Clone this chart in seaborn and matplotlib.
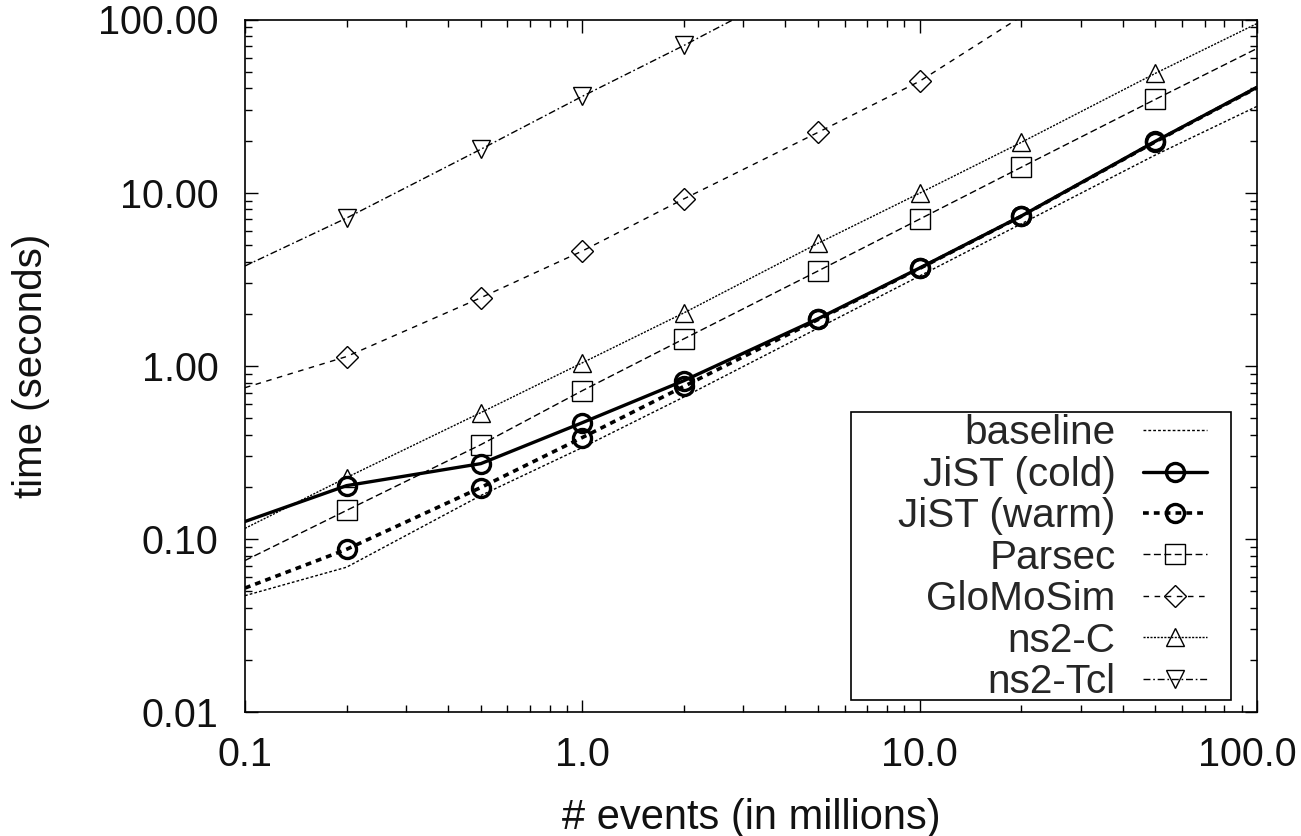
import numpy as np
import pandas as pd
import matplotlib
matplotlib.use("Agg")
import matplotlib.pyplot as plt
import seaborn as sns
from matplotlib.patches import Rectangle
from matplotlib.transforms import ScaledTranslation
from matplotlib.ticker import FixedLocator, FixedFormatter, LogLocator, NullFormatter

events = [0.1, 0.2, 0.5, 1, 2, 5, 10, 20, 50, 100]

baseline = [0.047, 0.0686, 0.178, 0.337, 0.66, 1.65, 3.3, 6.6, 16.5, 31.5]
jist_cold = [0.126, 0.203, 0.272, 0.469, 0.82, 1.87, 3.67, 7.32, 19.8, 40.6]
jist_warm = [0.052, 0.087, 0.198, 0.385, 0.76, 1.85, 3.65, 7.3, 19.7, 40.4]
parsec = [0.075, 0.146, 0.35, 0.718, 1.43, 3.53, 7.03, 14.0, 34.6, 68.0]
glomosim = [0.747, 1.13, 2.47, 4.6, 9.2, 22.3, 44.0, 104.0, 260.0, 520.0]
ns2_c = [0.115, 0.226, 0.536, 1.04, 2.02, 5.1, 9.93, 19.5, 48.9, 94.8]
ns2_tcl = [3.77, 7.13, 17.8, 36.0, 70.8, 180.0, 360.0, 720.0, 1800.0, 3600.0]

series_names = ["baseline", "JiST (cold)", "JiST (warm)", "Parsec",
                "GloMoSim", "ns2-C", "ns2-Tcl"]
series_values = [baseline, jist_cold, jist_warm, parsec, glomosim, ns2_c, ns2_tcl]

y_ticks = [0.01, 0.1, 1, 10, 100]
y_tick_labels = ["0.01", "0.10", "1.00", "10.00", "100.00"]
x_ticks = [0.1, 1, 10, 100]
x_tick_labels = ["0.1", "1.0", "10.0", "100.0"]

styles = {
    "baseline":    dict(ls=(0, (2, 1.5)), lw=1.0, marker=None),
    "JiST (cold)": dict(ls="-", lw=2.4, marker="o", ms=13, mew=2.4),
    "JiST (warm)": dict(ls=(0, (1.6, 1.4)), lw=2.6, marker="o", ms=13, mew=2.4),
    "Parsec":      dict(ls=(0, (5, 2.5)), lw=1.0, marker="s", ms=15, mew=1.0),
    "GloMoSim":    dict(ls=(0, (4, 4)), lw=1.0, marker="D", ms=11, mew=1.0),
    "ns2-C":       dict(ls=(0, (1.5, 1.0)), lw=1.0, marker="^", ms=13, mew=1.0),
    "ns2-Tcl":     dict(ls=(0, (5, 2, 1.2, 2)), lw=1.0, marker="v", ms=13, mew=1.0),
}

sns.set_theme(style="ticks")
plt.rcParams["font.family"] = ["Liberation Sans", "DejaVu Sans"]

W, H = 1301, 836
fig = plt.figure(figsize=(W / 100, H / 100), dpi=100)
ax = fig.add_axes([245 / W, 1 - 712 / H, (1257 - 245) / W, (712 - 19.5) / H])

YMAX = 100
for name, vals in zip(series_names, series_values):
    st = styles[name]
    df = pd.DataFrame({"events": events, "time": vals})
    kw = dict(color="black", linestyle=st["ls"], linewidth=st["lw"], label=name)
    if st["marker"]:
        shown = [i for i in range(1, len(events) - 1) if vals[i] <= YMAX]
        kw.update(marker=st["marker"], markersize=st["ms"], markerfacecolor="none",
                  markeredgecolor="black", markeredgewidth=st["mew"],
                  markevery=shown)
    sns.lineplot(data=df, x="events", y="time", ax=ax, estimator=None, sort=False, **kw)

ax.set_xscale("log")
ax.set_yscale("log")
ax.set_xlim(0.1, 100)
ax.set_ylim(0.01, YMAX)

ax.xaxis.set_major_locator(FixedLocator(x_ticks))
ax.xaxis.set_major_formatter(FixedFormatter(x_tick_labels))
ax.yaxis.set_major_locator(FixedLocator(y_ticks))
ax.yaxis.set_major_formatter(FixedFormatter(y_tick_labels))
ax.xaxis.set_minor_locator(LogLocator(base=10, subs=np.arange(2, 10)))
ax.yaxis.set_minor_locator(LogLocator(base=10, subs=np.arange(2, 10)))
ax.xaxis.set_minor_formatter(NullFormatter())
ax.yaxis.set_minor_formatter(NullFormatter())

ax.tick_params(which="both", direction="in", top=True, right=True, color="black", width=1.0)
ax.tick_params(which="major", length=9, labelsize=28.5, labelcolor="#111111")
ax.tick_params(axis="y", which="major", pad=19)
ax.tick_params(axis="x", which="major", pad=17)
ax.tick_params(which="minor", length=5)
for sp in ax.spines.values():
    sp.set_color("black")
    sp.set_linewidth(1.2)

ax.set_xlabel("# events (in millions)", fontsize=30, color="#111111")
ax.set_ylabel("time (seconds)", fontsize=29, color="#111111")
ax.xaxis.set_label_coords(0.5, -(798 - 712) / 692.5)
ax.yaxis.set_label_coords(-(245 - 50) / 1012, 0.5)

# legend box (gnuplot-style key with wide left margin)
box = Rectangle((851 / W, 1 - 700 / H), (1231 - 851) / W, (700 - 412) / H,
                transform=fig.transFigure, facecolor="white", edgecolor="black",
                linewidth=1.2, zorder=4.5, clip_on=False)
ax.add_patch(box)

leg = ax.legend(loc="lower right", bbox_to_anchor=(1207 / W, 1 - 701 / H),
                bbox_transform=fig.transFigure, markerfirst=False,
                fontsize=29.2, frameon=False, handlelength=1.57, handletextpad=0.68,
                labelspacing=0.085, borderpad=0.0, borderaxespad=0, numpoints=1)
leg.set_zorder(5)

# keep the last x tick label inside the canvas, as in the original
fig.canvas.draw()
last = ax.xaxis.get_major_ticks()[-1].label1
last.set_transform(last.get_transform() + ScaledTranslation(-10 / 100, 0, fig.dpi_scale_trans))

fig.savefig("out.png", dpi=100)
